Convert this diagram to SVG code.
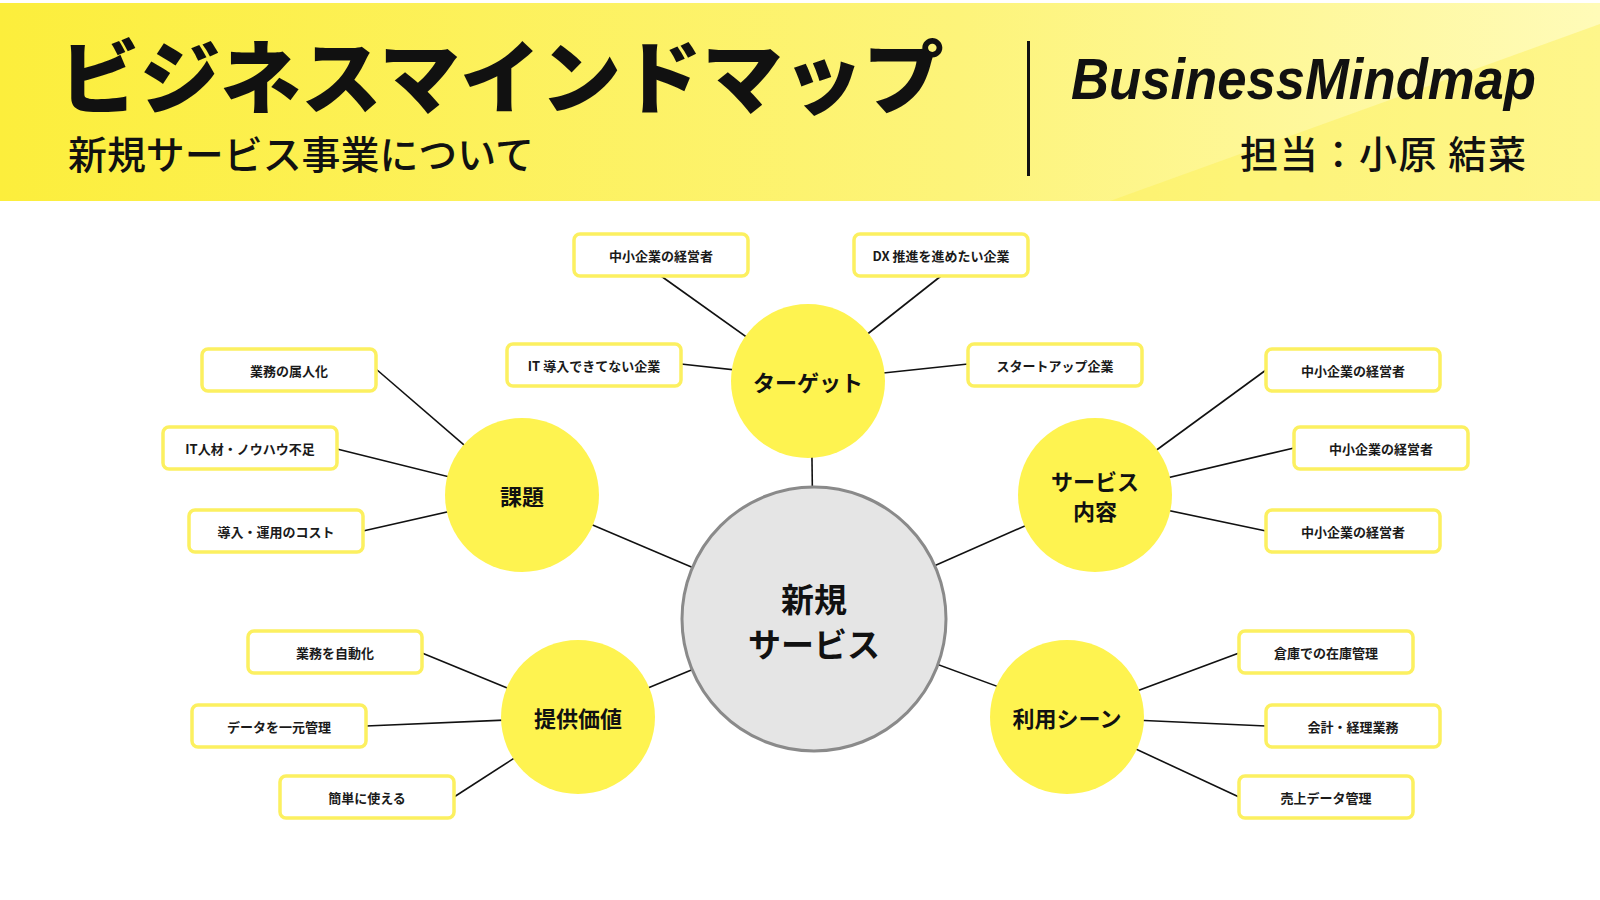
<svg xmlns="http://www.w3.org/2000/svg" width="1600" height="900" viewBox="0 0 1600 900">
<defs>
<linearGradient id="hdr" x1="0" y1="0" x2="1" y2="0">
<stop offset="0" stop-color="#fcee3c"/>
<stop offset="0.6" stop-color="#fdf47a"/>
<stop offset="1" stop-color="#fffbb8"/>
</linearGradient>
<style>
.jp{font-family:"Noto Sans CJK JP","Noto Sans CJK SC",sans-serif;fill:#111;}
.leaf rect{fill:#fff;stroke:#fcf060;stroke-width:3.5;}
.leaf text{font-family:"Noto Sans CJK JP",sans-serif;font-size:13px;font-weight:700;fill:#1a1a1a;text-anchor:middle;dominant-baseline:central;}
.br circle{fill:#fef350;}
.br text{font-family:"Noto Sans CJK JP",sans-serif;font-size:22px;font-weight:700;fill:#111;text-anchor:middle;dominant-baseline:central;}
#connectors line{stroke:#111;stroke-width:1.6;}
</style>
</defs>
<rect x="0" y="0" width="1600" height="900" fill="#ffffff"/>
<g id="header">
<rect x="0" y="3" width="1600" height="198" fill="url(#hdr)"/>
<polygon points="1110,201 1600,24 1600,201" fill="#fcef55" opacity="0.45"/>
<text class="jp" x="59" y="107" font-size="80" font-weight="900" textLength="885" lengthAdjust="spacingAndGlyphs">ビジネスマインドマップ</text>
<text class="jp" x="68" y="169" font-size="39" font-weight="500" textLength="466" lengthAdjust="spacingAndGlyphs">新規サービス事業について</text>
<rect x="1027" y="41" width="3" height="135" fill="#111"/>
<text x="1071" y="99" font-family="'Liberation Sans',Arial,sans-serif" font-size="58" font-weight="700" font-style="italic" fill="#111" textLength="465" lengthAdjust="spacingAndGlyphs">BusinessMindmap</text>
<text class="jp" x="1526" y="168" font-size="38" font-weight="500" text-anchor="end" textLength="286" lengthAdjust="spacing">担当：小原 結菜</text>
</g>
<g id="connectors">
<line x1="811" y1="381" x2="814" y2="619"/>
<line x1="522" y1="495" x2="814" y2="619"/>
<line x1="1095" y1="495" x2="814" y2="619"/>
<line x1="578" y1="717" x2="814" y2="619"/>
<line x1="1067" y1="712" x2="814" y2="619"/>
<line x1="661" y1="276" x2="808" y2="381"/>
<line x1="941" y1="276" x2="808" y2="381"/>
<line x1="681" y1="364" x2="808" y2="378"/>
<line x1="968" y1="364" x2="808" y2="381"/>
<line x1="376" y1="369" x2="522" y2="495"/>
<line x1="337" y1="449" x2="522" y2="495"/>
<line x1="363" y1="531" x2="522" y2="495"/>
<line x1="1266" y1="370" x2="1095" y2="495"/>
<line x1="1294" y1="448" x2="1095" y2="495"/>
<line x1="1266" y1="531" x2="1095" y2="495"/>
<line x1="422" y1="653" x2="578" y2="717"/>
<line x1="366" y1="726" x2="578" y2="717"/>
<line x1="454" y1="797" x2="578" y2="717"/>
<line x1="1239" y1="653" x2="1067" y2="717"/>
<line x1="1266" y1="726" x2="1067" y2="717"/>
<line x1="1239" y1="797" x2="1067" y2="717"/>
</g>
<g id="center">
<circle cx="814" cy="619" r="132" fill="#e5e5e5" stroke="#8a8a8a" stroke-width="3"/>
<text class="jp" x="814" y="598" font-size="33" font-weight="700" text-anchor="middle" dominant-baseline="central">新規</text>
<text class="jp" x="814" y="643" font-size="33" font-weight="700" text-anchor="middle" dominant-baseline="central">サービス</text>
</g>
<g id="target" class="br"><circle cx="808" cy="381" r="77"/><text x="808" y="381">ターゲット</text></g>
<g id="kadai" class="br"><circle cx="522" cy="495" r="77"/><text x="522" y="495">課題</text></g>
<g id="service" class="br"><circle cx="1095" cy="495" r="77"/><text x="1095" y="480">サービス</text><text x="1095" y="510">内容</text></g>
<g id="value" class="br"><circle cx="578" cy="717" r="77"/><text x="578" y="717">提供価値</text></g>
<g id="scene" class="br"><circle cx="1067" cy="717" r="77"/><text x="1067" y="717">利用シーン</text></g>
<g id="t1" class="leaf"><rect x="574" y="234" width="174" height="42" rx="6"/><text x="661" y="255">中小企業の経営者</text></g>
<g id="t2" class="leaf"><rect x="854" y="234" width="174" height="42" rx="6"/><text x="941" y="255">DX 推進を進めたい企業</text></g>
<g id="t3" class="leaf"><rect x="507" y="344" width="174" height="42" rx="6"/><text x="594" y="365">IT 導入できてない企業</text></g>
<g id="t4" class="leaf"><rect x="968" y="344" width="174" height="42" rx="6"/><text x="1055" y="365">スタートアップ企業</text></g>
<g id="k1" class="leaf"><rect x="202" y="349" width="174" height="42" rx="6"/><text x="289" y="370">業務の属人化</text></g>
<g id="k2" class="leaf"><rect x="163" y="427" width="174" height="42" rx="6"/><text x="250" y="448">IT人材・ノウハウ不足</text></g>
<g id="k3" class="leaf"><rect x="189" y="510" width="174" height="42" rx="6"/><text x="276" y="531">導入・運用のコスト</text></g>
<g id="s1" class="leaf"><rect x="1266" y="349" width="174" height="42" rx="6"/><text x="1353" y="370">中小企業の経営者</text></g>
<g id="s2" class="leaf"><rect x="1294" y="427" width="174" height="42" rx="6"/><text x="1381" y="448">中小企業の経営者</text></g>
<g id="s3" class="leaf"><rect x="1266" y="510" width="174" height="42" rx="6"/><text x="1353" y="531">中小企業の経営者</text></g>
<g id="v1" class="leaf"><rect x="248" y="631" width="174" height="42" rx="6"/><text x="335" y="652">業務を自動化</text></g>
<g id="v2" class="leaf"><rect x="192" y="705" width="174" height="42" rx="6"/><text x="279" y="726">データを一元管理</text></g>
<g id="v3" class="leaf"><rect x="280" y="776" width="174" height="42" rx="6"/><text x="367" y="797">簡単に使える</text></g>
<g id="u1" class="leaf"><rect x="1239" y="631" width="174" height="42" rx="6"/><text x="1326" y="652">倉庫での在庫管理</text></g>
<g id="u2" class="leaf"><rect x="1266" y="705" width="174" height="42" rx="6"/><text x="1353" y="726">会計・経理業務</text></g>
<g id="u3" class="leaf"><rect x="1239" y="776" width="174" height="42" rx="6"/><text x="1326" y="797">売上データ管理</text></g>
</svg>
